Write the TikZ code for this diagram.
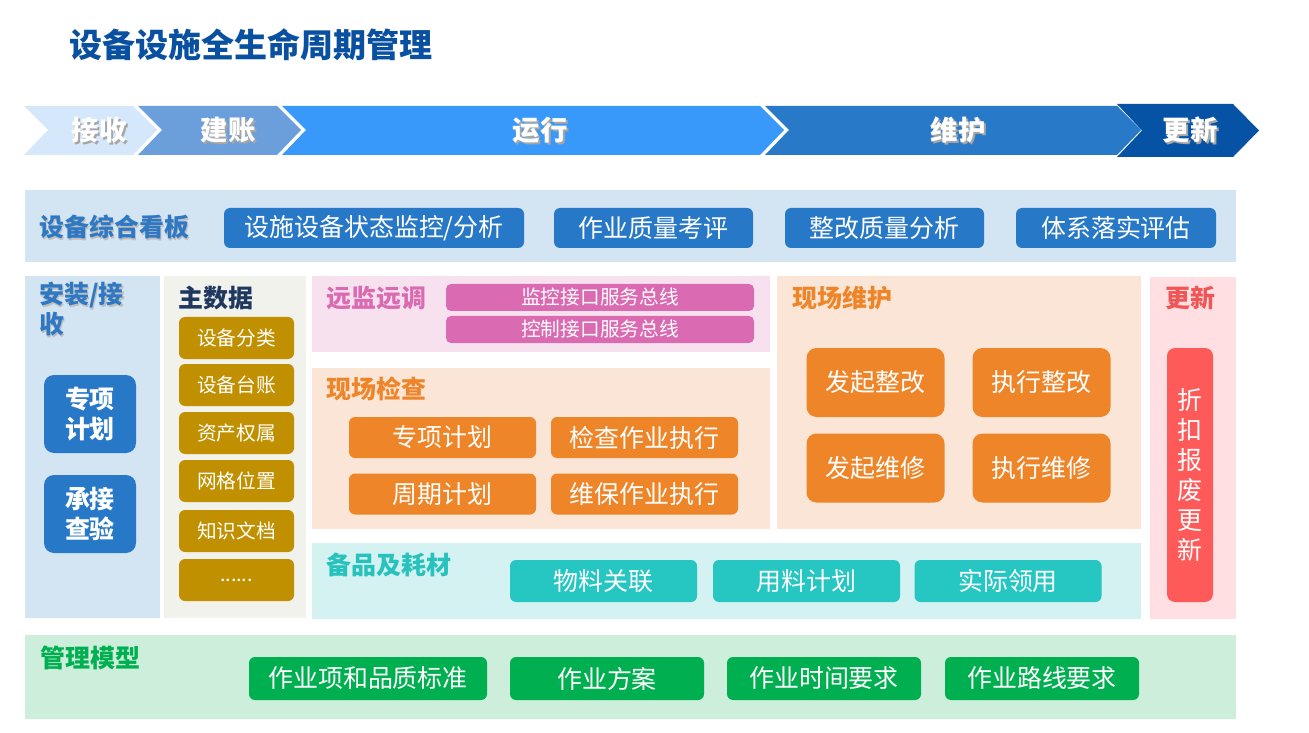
\documentclass[tikz,border=0pt]{standalone}
\usepackage{fontspec}
\setmainfont{Noto Sans CJK SC}
\usetikzlibrary{positioning}

\definecolor{titleblue}{HTML}{0A50A0}
\definecolor{stagea}{HTML}{D5E8FB}
\definecolor{stageb}{HTML}{6A9FDC}
\definecolor{stagec}{HTML}{3899FA}
\definecolor{staged}{HTML}{2979C9}
\definecolor{stagee}{HTML}{0652A5}
\definecolor{boardbg}{HTML}{D3E4F3}
\definecolor{boardblue}{HTML}{2878C8}
\definecolor{lblblue}{HTML}{2E78C4}
\definecolor{masterbg}{HTML}{F2F2EC}
\definecolor{mastergold}{HTML}{C09000}
\definecolor{masternavy}{HTML}{1F3860}
\definecolor{remotebg}{HTML}{F8E1EF}
\definecolor{remotepink}{HTML}{DA6AB2}
\definecolor{sitebg}{HTML}{FBE5D6}
\definecolor{siteorange}{HTML}{EE8528}
\definecolor{renewbg}{HTML}{FFDFE1}
\definecolor{renewred}{HTML}{FF5A5A}
\definecolor{renewlbl}{HTML}{F05656}
\definecolor{sparebg}{HTML}{D3F2F1}
\definecolor{spareteal}{HTML}{26C6C2}
\definecolor{sparelbl}{HTML}{27C2BD}
\definecolor{modelbg}{HTML}{CCEEDA}
\definecolor{modelgreen}{HTML}{00B050}

\newcommand{\titlefont}{\fontsize{18.8}{22}\selectfont\bfseries}
\newcommand{\stagefont}{\fontsize{15.6}{18}\selectfont\bfseries}
\newcommand{\lblfont}{\fontsize{14.2}{17}\selectfont\bfseries}
\newcommand{\btnfont}{\fontsize{14.2}{17}\selectfont}
\newcommand{\smallfont}{\fontsize{11.2}{13}\selectfont}

\begin{document}
\begin{tikzpicture}[
    x=0.2mm, y=-0.2mm,
    panel/.style={fill=#1, draw=none},
    sectlbl/.style={anchor=west, inner sep=0pt, font=\lblfont},
    stagelbl/.style={inner sep=0pt, font=\stagefont, text=white},
    btn/.style={fill=#1, text=white, inner sep=0pt, rounded corners=1.2mm, font=\btnfont, align=center},
    bigbtn/.style={btn=#1, rounded corners=2mm, minimum width=138*0.2mm, minimum height=69*0.2mm},
    gold/.style={btn=mastergold, font=\smallfont, minimum width=115*0.2mm, minimum height=42*0.2mm},
    bus/.style={btn=remotepink, font=\smallfont, rounded corners=1mm, minimum width=308*0.2mm, minimum height=27*0.2mm}
]
\useasboundingbox (0,0) rectangle (1309,733);

% title
\node[anchor=west, inner sep=0pt, text=titleblue, font=\titlefont] (title) at (69,45) {设备设施全生命周期管理};

% lifecycle stages
\foreach \a/\b/\c in {24/133/stagea, 138/277/stageb, 282/760/stagec, 765/1117/staged}
  \fill[\c] (\a,106) -- (\b,106) -- ++(24,24) -- (\b,155) -- (\a,155) -- (\a+24,130) -- cycle;
\fill[stagee] (1117,104) -- (1233,104) -- (1259,130.5) -- (1233,157) -- (1117,157) -- (1142,130.5) -- cycle;
\foreach \x/\t/\n in {99/接收/rx, 228/建账/jz, 540/运行/yx, 958/维护/wh, 1190/更新/gx} {
  \node[stagelbl, text=black!35] (\n s) at (\x+2,132) {\t};
  \node[stagelbl] (\n) at (\x,130) {\t};
}

% panels
\fill[panel=boardbg] (25,190) rectangle (1236,262);
\fill[panel=boardbg] (25,276) rectangle (160,618);
\fill[panel=masterbg] (164,276) rectangle (306,618);
\fill[panel=remotebg] (312,276) rectangle (770,352);
\fill[panel=sitebg] (312,368) rectangle (770,529);
\fill[panel=sitebg] (777,276) rectangle (1141,529);
\fill[panel=renewbg] (1150,277) rectangle (1236,619);
\fill[panel=sparebg] (312,543) rectangle (1141,619);
\fill[panel=modelbg] (25,635) rectangle (1236,719);

% dashboard
\node[sectlbl, text=black!25] (boards) at (40.5,228.5) {设备综合看板};
\node[sectlbl, text=lblblue] (board) at (39,227) {设备综合看板};
\node[btn=boardblue, minimum width=300*0.2mm, minimum height=40*0.2mm] (monitor) at (374,228) {设施设备状态监控/分析};
\node[btn=boardblue, minimum width=199*0.2mm, minimum height=40*0.2mm] (quality) at (653.5,228) {作业质量考评};
\node[btn=boardblue, minimum width=199*0.2mm, minimum height=40*0.2mm] (rectify) at (884.5,228) {整改质量分析};
\node[btn=boardblue, minimum width=200*0.2mm, minimum height=40*0.2mm] (system) at (1116,228) {体系落实评估};

% install / acceptance
\node[sectlbl, text=black!25, anchor=north west, align=left] (installs) at (40.5,283.5) {安装/接\\收};
\node[sectlbl, text=lblblue, anchor=north west, align=left] (install) at (39,282) {安装/接\\收};
\node[btn=boardblue, font=\lblfont, rounded corners=2mm, minimum width=92*0.2mm, minimum height=78*0.2mm] (special) at (90,414) {专项\\计划};
\node[btn=boardblue, font=\lblfont, rounded corners=2mm, minimum width=92*0.2mm, minimum height=78*0.2mm] (accept) at (90,514) {承接\\查验};

% master data
\node[sectlbl, text=masternavy] (master) at (178,298) {主数据};
\node[gold] (category) at (236.5,338) {设备分类};
\node[gold] (ledger) at (236.5,385) {设备台账};
\node[gold] (owner) at (236.5,433) {资产权属};
\node[gold] (grid) at (236.5,481) {网格位置};
\node[gold] (docs) at (236.5,531) {知识文档};
\node[gold] (more) at (236.5,580) {......};

% remote monitoring
\node[sectlbl, text=remotepink] (remote) at (326,298) {远监远调};
\node[bus] (monbus) at (600,297.5) {监控接口服务总线};
\node[bus] (ctlbus) at (600,329.5) {控制接口服务总线};

% site inspection
\node[sectlbl, text=siteorange] (inspect) at (326,389) {现场检查};
\node[btn=siteorange, minimum width=187*0.2mm, minimum height=41*0.2mm] (splan) at (442.5,437.5) {专项计划};
\node[btn=siteorange, minimum width=187*0.2mm, minimum height=41*0.2mm] (chkexec) at (644.5,437.5) {检查作业执行};
\node[btn=siteorange, minimum width=187*0.2mm, minimum height=41*0.2mm] (cplan) at (442.5,494) {周期计划};
\node[btn=siteorange, minimum width=187*0.2mm, minimum height=41*0.2mm] (mntexec) at (644.5,494) {维保作业执行};

% site maintenance
\node[sectlbl, text=siteorange] (maint) at (792,298) {现场维护};
\node[bigbtn=siteorange] (startfix) at (875.5,382.5) {发起整改};
\node[bigbtn=siteorange] (dofix) at (1041.5,382.5) {执行整改};
\node[bigbtn=siteorange] (startrep) at (875.5,468) {发起维修};
\node[bigbtn=siteorange] (dorep) at (1041.5,468) {执行维修};

% renewal
\node[sectlbl, text=renewlbl] (renew) at (1165,298) {更新};
\node[btn=renewred, rounded corners=1.6mm, minimum width=46*0.2mm, minimum height=254*0.2mm] (scrap) at (1190,475) {折\\扣\\报\\废\\更\\新};

% spares
\node[sectlbl, text=sparelbl] (spares) at (326,565) {备品及耗材};
\node[btn=spareteal, minimum width=187*0.2mm, minimum height=42*0.2mm] (link) at (603.5,581) {物料关联};
\node[btn=spareteal, minimum width=187*0.2mm, minimum height=42*0.2mm] (useplan) at (806.5,581) {用料计划};
\node[btn=spareteal, minimum width=187*0.2mm, minimum height=42*0.2mm] (actual) at (1008,581) {实际领用};

% management model
\node[sectlbl, text=modelgreen] (model) at (40,658) {管理模型};
\node[btn=modelgreen, minimum width=238*0.2mm, minimum height=43*0.2mm] (standard) at (368,678.5) {作业项和品质标准};
\node[btn=modelgreen, minimum width=194*0.2mm, minimum height=43*0.2mm] (scheme) at (607,678.5) {作业方案};
\node[btn=modelgreen, minimum width=194*0.2mm, minimum height=43*0.2mm] (timereq) at (824,678.5) {作业时间要求};
\node[btn=modelgreen, minimum width=194*0.2mm, minimum height=43*0.2mm] (routereq) at (1042,678.5) {作业路线要求};
\end{tikzpicture}
\end{document}
